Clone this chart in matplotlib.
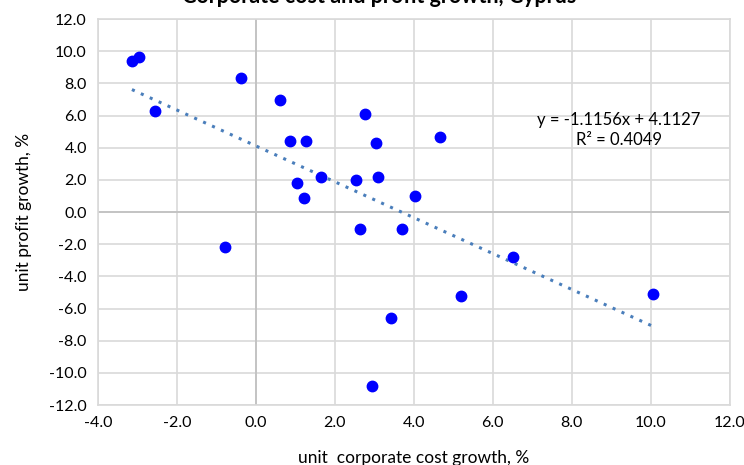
import numpy as np
import matplotlib.pyplot as plt

# data
cost_growth = [-3.14, -2.96, -2.56, -0.38, 0.61, 0.86, 1.27, 2.76, 3.04, 4.66,
               1.04, 1.23, 1.66, 2.53, 3.09, 4.02, 2.64, 3.70, -0.78, 6.52,
               5.19, 3.42, 2.95, 10.06]
profit_growth = [9.39, 9.64, 6.28, 8.33, 6.97, 4.42, 4.42, 6.09, 4.29, 4.68,
                 1.80, 0.87, 2.18, 1.97, 2.18, 0.98, -1.04, -1.04, -2.20, -2.82,
                 -5.24, -6.61, -10.84, -5.08]
slope, intercept = -1.1156, 4.1127
r2 = 0.4049

plt.rcParams['font.family'] = ['Lato', 'DejaVu Sans']

fig = plt.figure(figsize=(7.44, 4.65), dpi=100)
ax = fig.add_axes([0.1317, 0.129, 0.849, 0.83])

x = np.array(cost_growth)
xl = np.array([x.min(), x.max()])
ax.plot(xl, slope * xl + intercept, linestyle=(0, (1, 2.2)), color='#4a7ebb', lw=2.2, zorder=2)
ax.plot(cost_growth, profit_growth, 'o', color='#0000ff', ms=7.5, zorder=3)

ax.set_xlim(-4, 12)
ax.set_ylim(-12, 12)
ax.set_xticks(np.arange(-4, 12.1, 2))
ax.set_yticks(np.arange(-12, 12.1, 2))
ax.xaxis.set_major_formatter(lambda v, p: f"{v:.1f}")
ax.yaxis.set_major_formatter(lambda v, p: f"{v:.1f}")
ax.tick_params(length=0, labelsize=11.5, colors='black', pad=8)
ax.grid(True, color='#d9d9d9', lw=1.2, zorder=0)
ax.set_axisbelow(True)
for s in ax.spines.values():
    s.set_color('#d9d9d9')
    s.set_linewidth(1.2)
ax.axvline(0, color='#bfbfbf', lw=1.2, zorder=1)
ax.axhline(0, color='#bfbfbf', lw=1.2, zorder=1)

ax.set_xlabel('unit  corporate cost growth, %', fontsize=12.5, labelpad=14)
ax.set_ylabel('unit profit growth, %', fontsize=12.5, labelpad=12)

ax.text(9.2, 5.1, f'y = {slope:.4f}x + {intercept:.4f}\nR² = {r2:.4f}',
        fontsize=12, ha='center', va='center', linespacing=1.35)

fig.text(0.51, 0.9935, 'Corporate cost and profit growth, Cyprus', fontsize=15.5,
         fontweight='bold', ha='center', va='baseline')

fig.savefig('out.png', dpi=100)
